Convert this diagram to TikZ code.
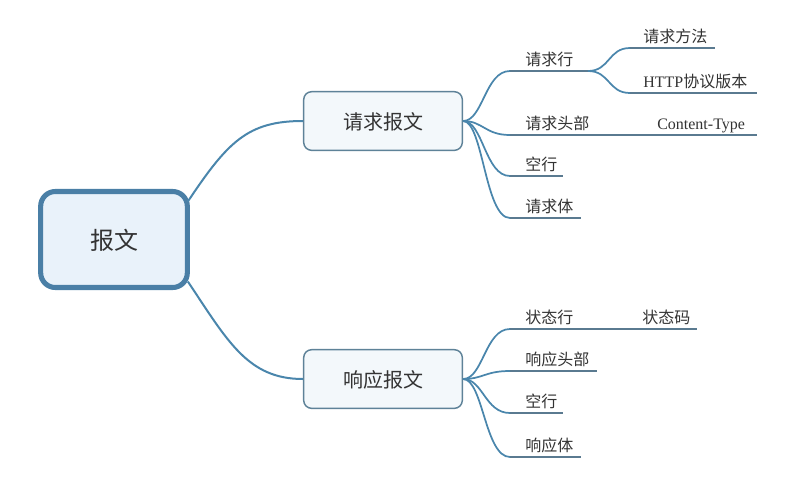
\documentclass[tikz,border=0pt]{standalone}
\usepackage{fontspec}
\setmainfont{Liberation Serif}
\newfontfamily\cjk{Noto Sans CJK SC}
\definecolor{ink}{HTML}{333333}
\definecolor{rootedge}{HTML}{4A7FA6}
\definecolor{rootfill}{HTML}{E9F2FA}
\definecolor{subedge}{HTML}{5E8298}
\definecolor{subfill}{HTML}{F3F8FB}
\definecolor{branchcol}{HTML}{4A86AC}
\definecolor{linecol}{HTML}{5A7A90}
\tikzset{
  rootbox/.style={draw=rootedge,line width=3.8pt,fill=rootfill,rounded corners=11pt,
    minimum width=110pt,minimum height=72pt,text=ink,text depth=0pt,font=\cjk\fontsize{18}{18}\selectfont},
  subbox/.style={draw=subedge,line width=1.1pt,fill=subfill,rounded corners=6pt,
    minimum width=119pt,minimum height=44pt,text=ink,text depth=0pt,font=\cjk\fontsize{15}{15}\selectfont},
  leaf/.style={anchor=base west,inner sep=0pt,text=ink,font=\cjk\fontsize{12}{12}\selectfont},
  trunk/.style={branchcol,line width=1.5pt},
  twig/.style={branchcol,line width=1.3pt},
  uline/.style={linecol,line width=1.2pt}
}
\begin{document}
\begin{tikzpicture}[x=0.75pt,y=-0.75pt]
  \useasboundingbox (0,0) rectangle (790,476);
  \node[rootbox] (root) at (114,239.5) {报文};
  \node[subbox] (req) at (383,121) {请求报文};
  \node[subbox] (resp) at (383,379) {响应报文};
  % leaves: name / text / x of text / line y / line start / line end
  \foreach \name/\txt/\tx/\y/\xs/\xe in {
      reqline/请求行/525/71/510/588, reqhead/请求头部/525/135/510/595,
      reqblank/空行/525/176/510/563, reqbody/请求体/525/218/510/581,
      method/请求方法/643/48/630/715, version/{\rmfamily HTTP}协议版本/643/93/630/757,
      ctype/{\rmfamily Content-Type}/657/135/630/757,
      status/状态行/525/329/510/588, resphead/响应头部/525/371/510/597,
      respblank/空行/525/413/510/563, respbody/响应体/525/457/510/581,
      code/状态码/642/329/630/697}{
    \node[leaf] (\name) at (\tx,\y-5.5) {\txt};
    \coordinate (\name-l) at (\xs,\y);
    \coordinate (\name-r) at (\xe,\y);
    \draw[uline] (\name-l) -- (\name-r);
  }
  % root to the two messages
  \draw[trunk] ([shift={(-2,-38)}]root.east) .. controls +(40,-60) and +(-55,0) .. (req.west);
  \draw[trunk] ([shift={(-2,42)}]root.east) .. controls +(40,60) and +(-55,0) .. (resp.west);
  % message to its parts
  \foreach \from/\to in {req/reqline,req/reqhead,req/reqblank,req/reqbody,
      resp/status,resp/resphead,resp/respblank,resp/respbody}{
    \draw[twig] (\from.east) .. controls +(20,0) and +(-25,0) .. (\to-l);
  }
  \draw[twig] (reqline-r) .. controls +(22,0) and +(-22,0) .. (method-l);
  \draw[twig] (reqline-r) .. controls +(22,0) and +(-22,0) .. (version-l);
  \draw[uline] (reqhead-r) -- (ctype-l);
  \draw[uline] (status-r) -- (code-l);
\end{tikzpicture}
\end{document}
